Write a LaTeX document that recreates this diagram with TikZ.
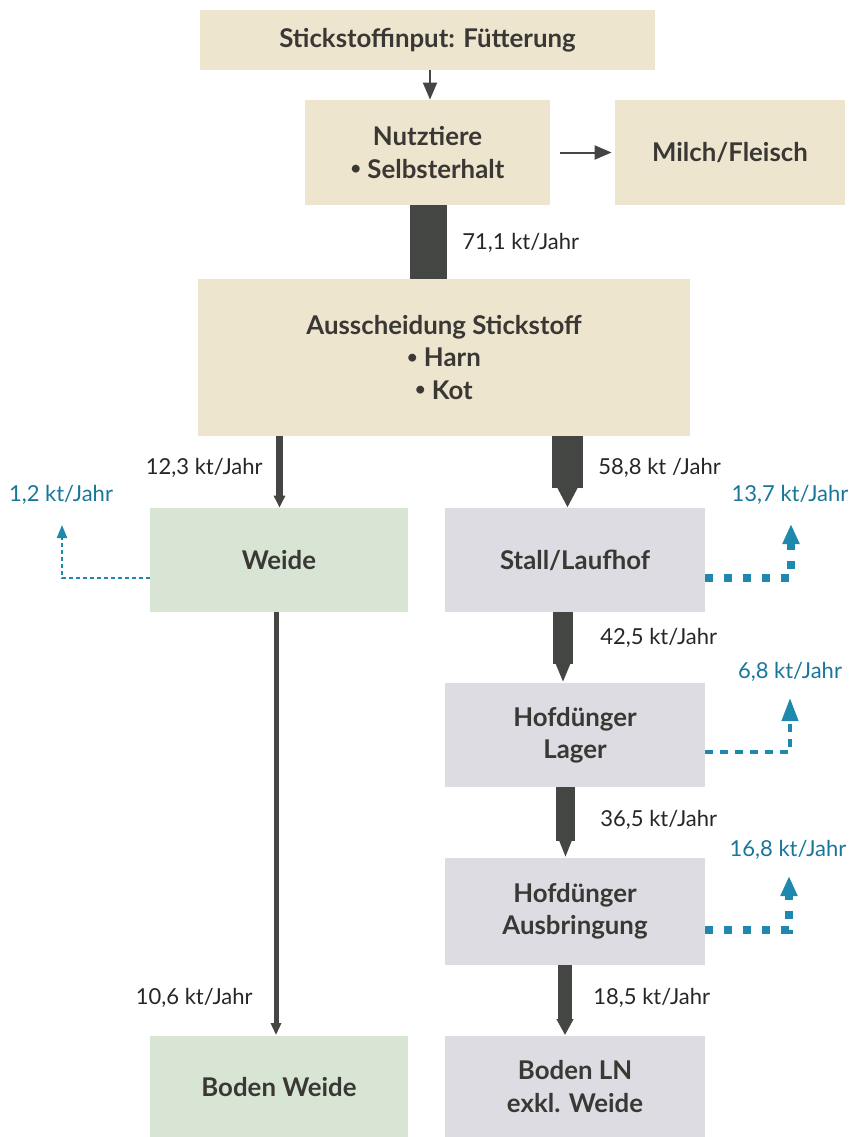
\documentclass[tikz,border=0pt]{standalone}
\usepackage{fontspec}
\usepackage{graphicx}
\setmainfont{Lato}
\usetikzlibrary{arrows.meta,calc}
\definecolor{beige}{RGB}{238,229,207}
\definecolor{greenbox}{RGB}{216,229,212}
\definecolor{graybox}{RGB}{221,220,226}
\definecolor{darkarrow}{RGB}{68,70,68}
\definecolor{tealline}{RGB}{30,137,172}
\definecolor{bluetext}{RGB}{25,118,155}
\definecolor{boxtext}{RGB}{58,56,52}
\newcommand{\mybul}{\raisebox{0.28ex}{\scalebox{0.7}{•}}}
\begin{document}
\begin{tikzpicture}[x=0.5pt,y=-0.5pt,
  box/.style={draw=none, inner sep=0pt, align=center,
    font=\bfseries\fontsize{12.9}{16.2}\selectfont, text=boxtext},
  beigebox/.style={box, fill=beige},
  greenb/.style={box, fill=greenbox},
  grayb/.style={box, fill=graybox},
  flowlabel/.style={inner sep=0pt, font=\fontsize{11}{13}\selectfont, text=black!85},
  losslabel/.style={inner sep=0pt, font=\fontsize{11}{13}\selectfont, text=bluetext},
  thinarrow/.style={draw=darkarrow, line width=1pt, -{Triangle[width=7pt,length=8.5pt]}},
  lossthin/.style={draw=tealline, line width=1pt, dash pattern=on 2pt off 1.5pt, -{Triangle[width=5pt,length=6.5pt,fill=tealline]}},
  lossmid/.style={draw=tealline, line width=2pt, dash pattern=on 4pt off 3.5pt, -{Triangle[width=8pt,length=11.5pt,fill=tealline]}},
  lossthick/.style={draw=tealline, line width=4pt, dash pattern=on 4pt off 5.5pt, -{Triangle[width=8pt,length=10pt,fill=tealline]}},
]
\useasboundingbox (0,0) rectangle (855,1137);

% boxes
\node[beigebox, minimum width=227.5pt, minimum height=30pt] (in) at (427.5,40) {Stickstoffinput: Fütterung};
\node[beigebox, minimum width=122.5pt, minimum height=52.5pt] (nutz) at (427.5,152.5) {Nutztiere\\\mybul\ Selbsterhalt};
\node[beigebox, minimum width=115pt, minimum height=52.5pt] (milch) at (730,152.5) {Milch/Fleisch};
\node[beigebox, minimum width=246pt, minimum height=78.5pt] (aus) at (444,357.5) {Ausscheidung Stickstoff\\\mybul\ Harn\\\mybul\ Kot};
\node[greenb, minimum width=129pt, minimum height=52pt] (weide) at (279,560) {Weide};
\node[grayb, minimum width=130pt, minimum height=52pt] (stall) at (575,560) {Stall/Laufhof};
\node[grayb, minimum width=130pt, minimum height=52pt] (lager) at (575,735) {Hofdünger\\Lager};
\node[grayb, minimum width=130pt, minimum height=53.5pt] (ausbr) at (575,911.5) {Hofdünger\\Ausbringung};
\node[greenb, minimum width=129pt, minimum height=51pt] (bw) at (279,1086.5) {Boden Weide};
\node[grayb, minimum width=130pt, minimum height=51pt] (bln) at (575,1086.5) {Boden LN\\exkl. Weide};

% x positions of flows
\coordinate (x71) at (428.5,0);
\coordinate (x12) at (279.5,0);
\coordinate (x58) at (567.5,0);
\coordinate (x42) at (563,0);
\coordinate (x36) at (565.5,0);
\coordinate (x18) at (565,0);
\coordinate (xw) at (276,0);

% arrows
\draw[thinarrow] (in.south -| 430,0) -- (nutz.north -| 430,0);
\draw[thinarrow, shorten <=5pt, shorten >=1.5pt] (nutz.east) -- (milch.west);
\fill[darkarrow] ($(nutz.south -| x71)+(-18.5,0)$) rectangle ($(aus.north -| x71)+(18.5,0)$);
\draw[draw=darkarrow, line width=3.5pt, -{Triangle[width=5.5pt,length=6pt]}] (aus.south -| x12) -- (weide.north -| x12);
\draw[draw=darkarrow, line width=15.5pt, -{Triangle[width=10pt,length=10.5pt]}] (aus.south -| x58) -- (stall.north -| x58);
\draw[draw=darkarrow, line width=10pt, -{Triangle[width=7pt,length=10pt]}] (stall.south -| x42) -- (lager.north -| x42);
\draw[draw=darkarrow, line width=9.5pt, -{Triangle[width=6pt,length=9pt]}] (lager.south -| x36) -- (ausbr.north -| x36);
\draw[draw=darkarrow, line width=7pt, -{Triangle[width=8pt,length=8pt]}] (ausbr.south -| x18) -- (bln.north -| x18);
\draw[draw=darkarrow, line width=2.5pt, -{Triangle[width=5pt,length=6pt]}] (weide.south -| xw) -- (bw.north -| xw);

% loss arrows
\coordinate (l1) at (62,525);
\coordinate (l2) at (791,524);
\coordinate (l3) at (790,698);
\coordinate (l4) at (789,876);
\draw[lossthin] (weide.west |- 0,578) -| (l1);
\draw[lossthick] (stall.east |- 0,578) -| (l2);
\draw[lossmid] (lager.east |- 0,752) -| (l3);
\draw[lossthick] (ausbr.east |- 0,930) -| (l4);

% flow labels
\node[flowlabel, anchor=west] (f71) at (462,243) {71,1 kt/Jahr};
\node[flowlabel, anchor=east] (f12) at (263,468) {12,3 kt/Jahr};
\node[flowlabel, anchor=west] (f58) at (598,468) {58,8 kt /Jahr};
\node[flowlabel, anchor=west] (f42) at (600,638) {42,5 kt/Jahr};
\node[flowlabel, anchor=west] (f36) at (600,820) {36,5 kt/Jahr};
\node[flowlabel, anchor=west] (f18) at (593,998) {18,5 kt/Jahr};
\node[flowlabel, anchor=east] (f10) at (253,998) {10,6 kt/Jahr};

% loss labels
\node[losslabel] (v1) at (61,495) {1,2 kt/Jahr};
\node[losslabel] (v2) at (790,495) {13,7 kt/Jahr};
\node[losslabel] (v3) at (790,672) {6,8 kt/Jahr};
\node[losslabel] (v4) at (788,850) {16,8 kt/Jahr};
\end{tikzpicture}
\end{document}
